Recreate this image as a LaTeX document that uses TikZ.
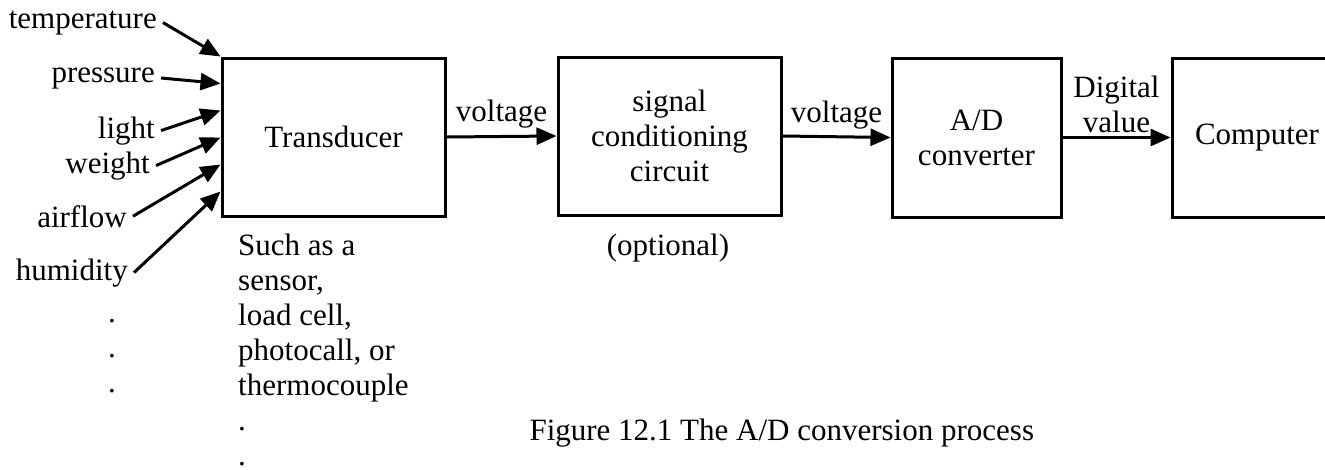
\documentclass[tikz,border=0pt]{standalone}
\usepackage{fontspec}
\setmainfont{Liberation Serif}
\usetikzlibrary{arrows.meta}
\usetikzlibrary{calc}

\tikzset{
  blockbox/.style={draw, line width=3pt, align=center, inner sep=0pt},
  sig/.style={->, line width=3pt},
  quantity/.style={anchor=base east, inner sep=6pt},
}

\begin{document}
\begin{tikzpicture}[x=1pt,y=-1pt,>={Triangle[length=20pt,width=17pt]},
    every node/.style={font=\fontsize{31}{35}\selectfont}]

    \useasboundingbox (0,0) rectangle (1325,469);
    \clip (0,0) rectangle (1325,469);

    % the four blocks
    \node[blockbox, minimum width=223pt, minimum height=158pt] (trans) at (333.5,137) {Transducer};
    \node[blockbox, minimum width=223pt, minimum height=158pt] (cond) at (669.5,136) {signal\\conditioning\\circuit};
    \node[blockbox, minimum width=169pt, minimum height=159pt] (adc) at (976.5,137.5) {A/D\\converter};
    \node[blockbox, minimum width=170pt, minimum height=159pt] (comp) at (1257,137.5) {Computer};

    % signal path
    \draw[sig] (trans.east) -- (cond.west)
        node[midway, above=3pt] (v1) {voltage};
    \draw[sig] (cond.east) -- (adc.west)
        node[midway, above=3pt] (v2) {voltage};
    \draw[sig] (adc.east) -- (comp.west)
        node[midway, above=0pt, align=center] (dig) {Digital\\value};

    % physical quantities
    \node[quantity] (temp) at (163,28) {temperature};
    \node[quantity] (pres) at (161,82) {pressure};
    \node[quantity] (light) at (161,138) {light};
    \node[quantity] (wgt) at (156,173) {weight};
    \node[quantity] (air) at (133,227) {airflow};
    \node[quantity] (hum) at (134,280) {humidity};

    \draw[sig] (temp.east) -- (trans.north west);
    \draw[sig] (pres.east) -- ($(trans.north west)+(0,27)$);
    \draw[sig] (light.east) -- ($(trans.north west)+(0,54)$);
    \draw[sig] (wgt.east) -- ($(trans.north west)+(0,81)$);
    \draw[sig] (air.east) -- ($(trans.north west)+(0,108)$);
    \draw[sig] (hum.east) -- ($(trans.north west)+(0,135)$);

    \node[anchor=north, align=center, inner sep=0pt] (ldots) at (112,319) {.\\.\\.};

    % notes
    \node[anchor=north west, align=left, inner sep=0pt] (such) at (238,234)
        {Such as a\\sensor,\\load cell,\\photocall, or\\thermocouple\\.\\.};
    \node[anchor=base] (opt) at (668,255) {(optional)};

    % caption
    \node[anchor=base west] (cap) at (526,440) {Figure 12.1 The A/D conversion process};

\end{tikzpicture}
\end{document}
